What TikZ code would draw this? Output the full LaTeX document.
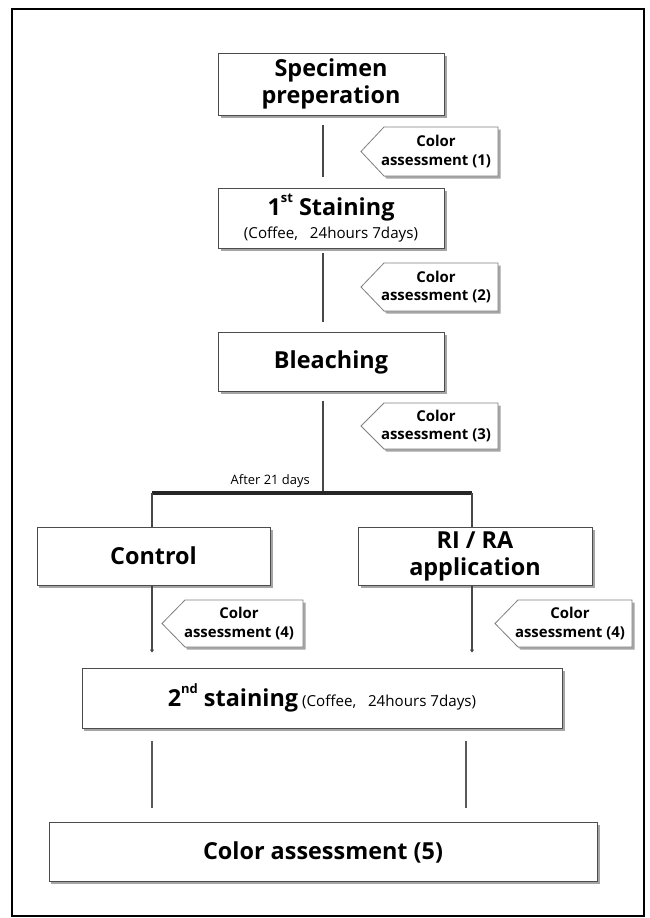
\documentclass[tikz,border=0pt]{standalone}
\usepackage{fontspec}
\setmainfont{Open Sans}
\usetikzlibrary{shadows,calc,arrows.meta}
\newcommand{\subtextfont}{\mdseries\fontsize{15.2}{18}\selectfont}
\newcommand{\supx}[1]{\raisebox{0.55em}{\fontsize{13}{13}\selectfont #1}}
\begin{document}
\begin{tikzpicture}[x=1bp,y=-1bp]
\tikzset{
 shd/.style={drop shadow={shadow xshift=2.5bp, shadow yshift=-2.5bp, opacity=0.5, fill=black!70}},
 mainbox/.style={draw=black!70, line width=0.9bp, fill=white, inner sep=0pt, align=center,
   font=\bfseries\fontsize{23.5}{27}\selectfont, shd},
 flow/.style={draw=black!72, line width=2.6bp},
 thinflow/.style={draw=black!65, line width=1.3bp},
 cashape/.style={draw=black!50, line width=0.8bp, fill=white, shd},
 catext/.style={font=\bfseries\fontsize{15}{18.5}\selectfont, align=center, inner sep=0pt},
}
\newcommand{\cabox}[7]{%
 \path[cashape] (#2,{(#5+#6)/2}) -- (#3,#5) -- (#4,#5) -- (#4,#6) -- (#3,#6) -- cycle;
 \node[catext] (#1) at ({(#3+#4)/2-5},{(#5+#6)/2}) {Color\\assessment (#7)};
}
% background and frame
\fill[white] (0,0) rectangle (650,918);
\useasboundingbox (0,0) rectangle (650,918);
\draw[line width=2bp] (12,9) rectangle (644,916);

% main boxes
\node[mainbox, minimum width=226bp, minimum height=62bp] (spec) at (331,84) {Specimen\\preperation};
\node[mainbox, minimum width=226bp, minimum height=60bp] (stain1) at (331,218)
  {1\supx{st} Staining\\[-4bp]{\subtextfont(Coffee,~~~24hours 7days)}};
\node[mainbox, minimum width=226bp, minimum height=59bp] (bleach) at (331,362) {Bleaching};
\node[mainbox, minimum width=233bp, minimum height=58bp] (control) at (153.5,556) {Control};
\node[mainbox, minimum width=234bp, minimum height=58bp] (rira) at (475,556) {RI / RA\\application};
\node[mainbox, minimum width=480bp, minimum height=60bp] (stain2) at (322,698)
  {2\supx{nd} staining\,{\subtextfont(Coffee,~~~24hours 7days)}};
\node[mainbox, minimum width=548bp, minimum height=59bp] (ca5) at (323,852) {Color assessment (5)};

% colour assessment tags
\cabox{ca1}{361}{384}{498}{127}{176}{1}
\cabox{ca2}{361}{384}{498}{263}{311}{2}
\cabox{ca3}{361}{384}{498}{403}{449}{3}
\cabox{ca4l}{162}{185}{303}{600}{647}{4}
\cabox{ca4r}{495}{518}{632}{600}{647}{4}

% junction coordinates
\coordinate (junc) at (323,493);
\coordinate (barL) at (152,493);
\coordinate (barR) at (472,493);
\coordinate (xR2) at (466,0);

% connectors
\draw[flow] ($(spec.south)+(-8,10)$) -- ($(stain1.north)+(-8,-11)$);
\draw[flow] ($(stain1.south)+(-8,5)$) -- ($(bleach.north)+(-8,-10)$);
\draw[flow] ($(bleach.south)+(-8,9)$) -- (junc);
\draw[line width=4.5bp, black!85] (barL) -- (barR);
\draw[flow] (barL) -- (barL |- control.north);
\draw[flow] (barR) -- (barR |- rira.north);
\draw[flow, -{Triangle[length=3bp,width=4bp]}] (barL |- control.south) -- ($(stain2.north -| barL)+(0,-15)$);
\draw[flow, -{Triangle[length=3bp,width=4bp]}] (barR |- rira.south) -- ($(stain2.north -| barR)+(0,-15)$);
\draw[thinflow] ($(stain2.south -| barL)+(0,13)$) -- ($(ca5.north -| barL)+(0,-14)$);
\draw[thinflow] ($(stain2.south -| xR2)+(0,13)$) -- ($(ca5.north -| xR2)+(0,-14)$);

\node[font=\fontsize{13}{15}\selectfont, anchor=east, inner sep=0pt] (after) at (310,481) {After 21 days};
\end{tikzpicture}
\end{document}
